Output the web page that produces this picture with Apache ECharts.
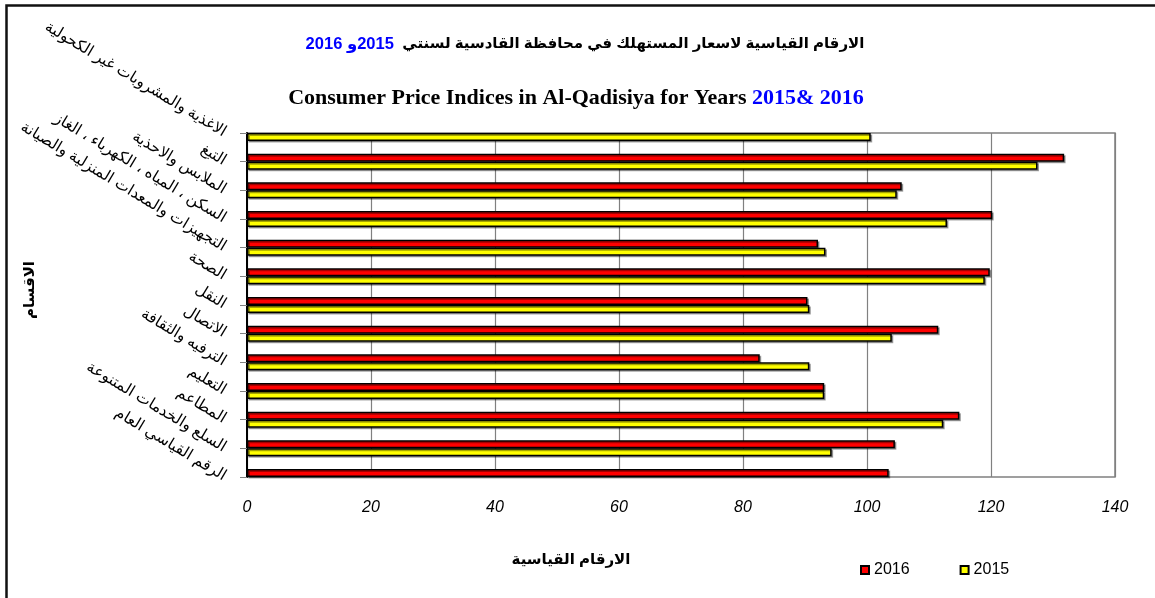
<!DOCTYPE html>
<html>
<head>
<meta charset="utf-8">
<script src="https://cdn.jsdelivr.net/npm/echarts@6/dist/echarts.min.js"></script>
<style>
  html, body { margin: 0; padding: 0; background: #fff; }
  #chart { width: 1155px; height: 598px; }
</style>
</head>
<body>
<div id="chart"></div>
<script>
  // الاقسام من الاعلى الى الاسفل
  var categories = [
    'الاغذية والمشروبات غير الكحولية',
    'التبغ',
    'الملابس والاحذية',
    'السكن ، المياه ، الكهرباء ، الغاز',
    'التجهيزات والمعدات المنزلية والصيانة',
    'الصحة',
    'النقل',
    'الاتصال',
    'الترفيه والثقافة',
    'التعليم',
    'المطاعم',
    'السلع والخدمات المتنوعة',
    'الرقم القياسي العام'
  ];
  var years = ['2016', '2015'];
  var values2016 = [null, 131.8, 105.6, 120.2, 92.1, 119.8, 90.4, 111.5, 82.7, 93.1, 114.9, 104.5, 103.5];
  var values2015 = [100.6, 127.5, 104.8, 112.9, 93.3, 119.0, 90.7, 104.0, 90.7, 93.1, 112.3, 94.3, null];
  var xTicks = [0, 20, 40, 60, 80, 100, 120, 140];

  var arabicFont = 'Arial, "DejaVu Sans", sans-serif';
  var serifFont = '"Liberation Serif", "Times New Roman", serif';

  var myChart = echarts.init(document.getElementById('chart'));

  function barSeries(name, data, color) {
    return {
      name: name,
      type: 'bar',
      data: data,
      barWidth: 8,
      barGap: '0%',
      clip: true,
      itemStyle: {
        color: color,
        borderColor: '#000',
        borderWidth: 1.5,
        shadowColor: 'rgba(0,0,0,0.35)',
        shadowOffsetX: 1.5,
        shadowOffsetY: 1.5
      }
    };
  }

  myChart.setOption({
    backgroundColor: '#fff',
    animation: false,
    grid: {
      left: 247, right: 40, top: 133, bottom: 121,
      show: true,
      borderColor: '#808080',
      borderWidth: 1.5
    },
    legend: {
      data: years,
      left: 855,
      top: 557,
      icon: 'rect',
      itemWidth: 8,
      itemHeight: 8,
      itemGap: 50,
      textStyle: { color: '#000', fontSize: 16, fontFamily: 'Arial' }
    },
    xAxis: {
      type: 'value',
      min: xTicks[0],
      max: xTicks[xTicks.length - 1],
      interval: 20,
      axisLine: { show: false },
      axisTick: { show: false },
      splitLine: { lineStyle: { color: '#808080', width: 1.2 } },
      axisLabel: {
        color: '#000',
        fontSize: 16,
        fontStyle: 'italic',
        fontFamily: 'Arial',
        margin: 23
      }
    },
    yAxis: {
      type: 'category',
      data: categories,
      inverse: true,
      boundaryGap: false,
      axisLine: { show: true, lineStyle: { color: '#000', width: 2 } },
      axisTick: { show: true, length: 7, lineStyle: { color: '#808080' } },
      splitLine: { show: false },
      axisLabel: {
        rotate: -31,
        margin: 22,
        color: '#000',
        fontSize: 15.5,
        fontFamily: arabicFont
      }
    },
    series: [
      barSeries(years[0], values2016, '#ff0000'),
      barSeries(years[1], values2015, '#ffff00')
    ],
    graphic: [
      {
        type: 'rect',
        shape: { x: 6.5, y: 5.5, width: 1300, height: 800 },
        style: { fill: null, stroke: '#111', lineWidth: 2.5 },
        silent: true
      },
      {
        type: 'text',
        x: 585, y: 44,
        style: {
          text: '{b|2016 }{b|و}{b|2015}{t|  الارقام القياسية لاسعار المستهلك في محافظة القادسية لسنتي}',
          align: 'center',
          verticalAlign: 'middle',
          rich: {
            b: { fill: '#0000ff', fontSize: 16.5, fontWeight: 'bold', fontFamily: arabicFont },
            t: { fill: '#000', fontSize: 15, fontWeight: 'bold', fontFamily: arabicFont }
          }
        }
      },
      {
        type: 'text',
        x: 576, y: 98,
        style: {
          text: '{t|Consumer Price Indices in Al-Qadisiya for Years }{b|2015& 2016}',
          align: 'center',
          verticalAlign: 'middle',
          rich: {
            t: { fill: '#000', fontSize: 22, fontWeight: 'bold', fontFamily: serifFont },
            b: { fill: '#0000ff', fontSize: 22, fontWeight: 'bold', fontFamily: serifFont }
          }
        }
      },
      {
        type: 'text',
        x: 571, y: 560,
        style: {
          text: 'الارقام القياسية',
          align: 'center',
          verticalAlign: 'middle',
          fill: '#000',
          fontSize: 15,
          fontWeight: 'bold',
          fontFamily: arabicFont
        }
      },
      {
        type: 'text',
        x: 30, y: 290,
        rotation: Math.PI / 2,
        style: {
          text: 'الاقسام',
          align: 'center',
          verticalAlign: 'middle',
          fill: '#000',
          fontSize: 15,
          fontWeight: 'bold',
          fontFamily: arabicFont
        }
      }
    ]
  });
</script>
</body>
</html>
